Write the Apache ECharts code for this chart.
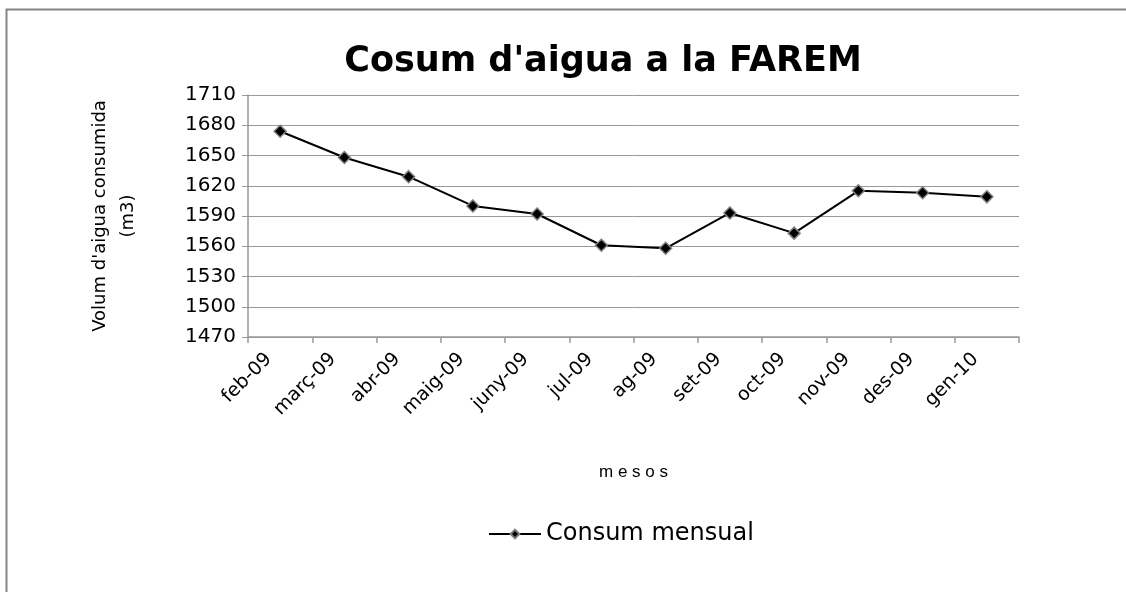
<!DOCTYPE html>
<html>
<head>
<meta charset="utf-8">
<script src="https://cdn.jsdelivr.net/npm/echarts@6/dist/echarts.min.js"></script>
<style>
html, body { margin: 0; padding: 0; background: #fff; }
#chart { width: 1126px; height: 592px; }
</style>
</head>
<body>
<div id="chart"></div>
<script>
// dades llegides del gràfic
var mesos = ['feb-09', 'març-09', 'abr-09', 'maig-09', 'juny-09', 'jul-09',
             'ag-09', 'set-09', 'oct-09', 'nov-09', 'des-09', 'gen-10'];
var consum = [1674, 1648, 1629, 1600, 1592, 1561, 1558, 1593, 1573, 1615, 1613, 1609];
var yMin = 1470, yMax = 1710, yStep = 30;

var myChart = echarts.init(document.getElementById('chart'));

var option = {
    animation: false,
    graphic: [{
        type: 'rect',
        shape: { x: 6.5, y: 9.5, width: 1140, height: 600 },
        style: { fill: 'none', stroke: '#868686', lineWidth: 2 }
    }],
    title: {
        text: "Cosum d'aigua a la FAREM",
        left: 598,
        textAlign: 'center',
        top: 39,
        textStyle: { fontFamily: 'DejaVu Sans', fontWeight: 'bold', fontSize: 35, color: '#000' }
    },
    legend: {
        data: ['Consum mensual'],
        left: 483,
        top: 517,
        itemWidth: 52,
        itemHeight: 11,
        itemGap: 4,
        textStyle: { fontFamily: 'DejaVu Sans', fontSize: 24, color: '#000' }
    },
    grid: { left: 248, right: 107, top: 95, bottom: 255 },
    xAxis: {
        type: 'category',
        data: mesos,
        boundaryGap: true,
        name: 'm e s o s',
        nameLocation: 'middle',
        nameGap: 127,
        nameTextStyle: { fontFamily: 'Liberation Sans', fontSize: 17, color: '#000' },
        axisLine: { lineStyle: { color: '#999', width: 1.5 } },
        axisTick: { show: true, length: 6, alignWithLabel: false, lineStyle: { color: '#999', width: 1.5 } },
        axisLabel: {
            rotate: 45,
            margin: 8,
            padding: [0, 16, 0, 0],
            fontFamily: 'DejaVu Sans',
            fontSize: 19,
            color: '#000'
        },
        splitLine: { show: false }
    },
    yAxis: {
        type: 'value',
        min: yMin,
        max: yMax,
        interval: yStep,
        name: "Volum d'aigua consumida\n(m3)",
        nameLocation: 'middle',
        nameGap: 106,
        nameRotate: 90,
        nameTextStyle: { fontFamily: 'DejaVu Sans', fontSize: 18, color: '#000', lineHeight: 28 },
        axisLine: { show: true, lineStyle: { color: '#999', width: 1.5 } },
        axisTick: { show: true, length: 6, lineStyle: { color: '#999', width: 1 } },
        axisLabel: {
            margin: 12,
            fontFamily: 'DejaVu Sans',
            fontSize: 20,
            color: '#000',
            formatter: function (v) { return String(v); }
        },
        splitLine: { show: true, lineStyle: { color: '#999', width: 1 } }
    },
    series: [{
        name: 'Consum mensual',
        type: 'line',
        data: consum,
        symbol: 'diamond',
        symbolSize: 12,
        lineStyle: { color: '#000', width: 2 },
        itemStyle: { color: '#000', borderColor: '#7f7f7f', borderWidth: 1.5 }
    }]
};

myChart.setOption(option);
</script>
</body>
</html>
